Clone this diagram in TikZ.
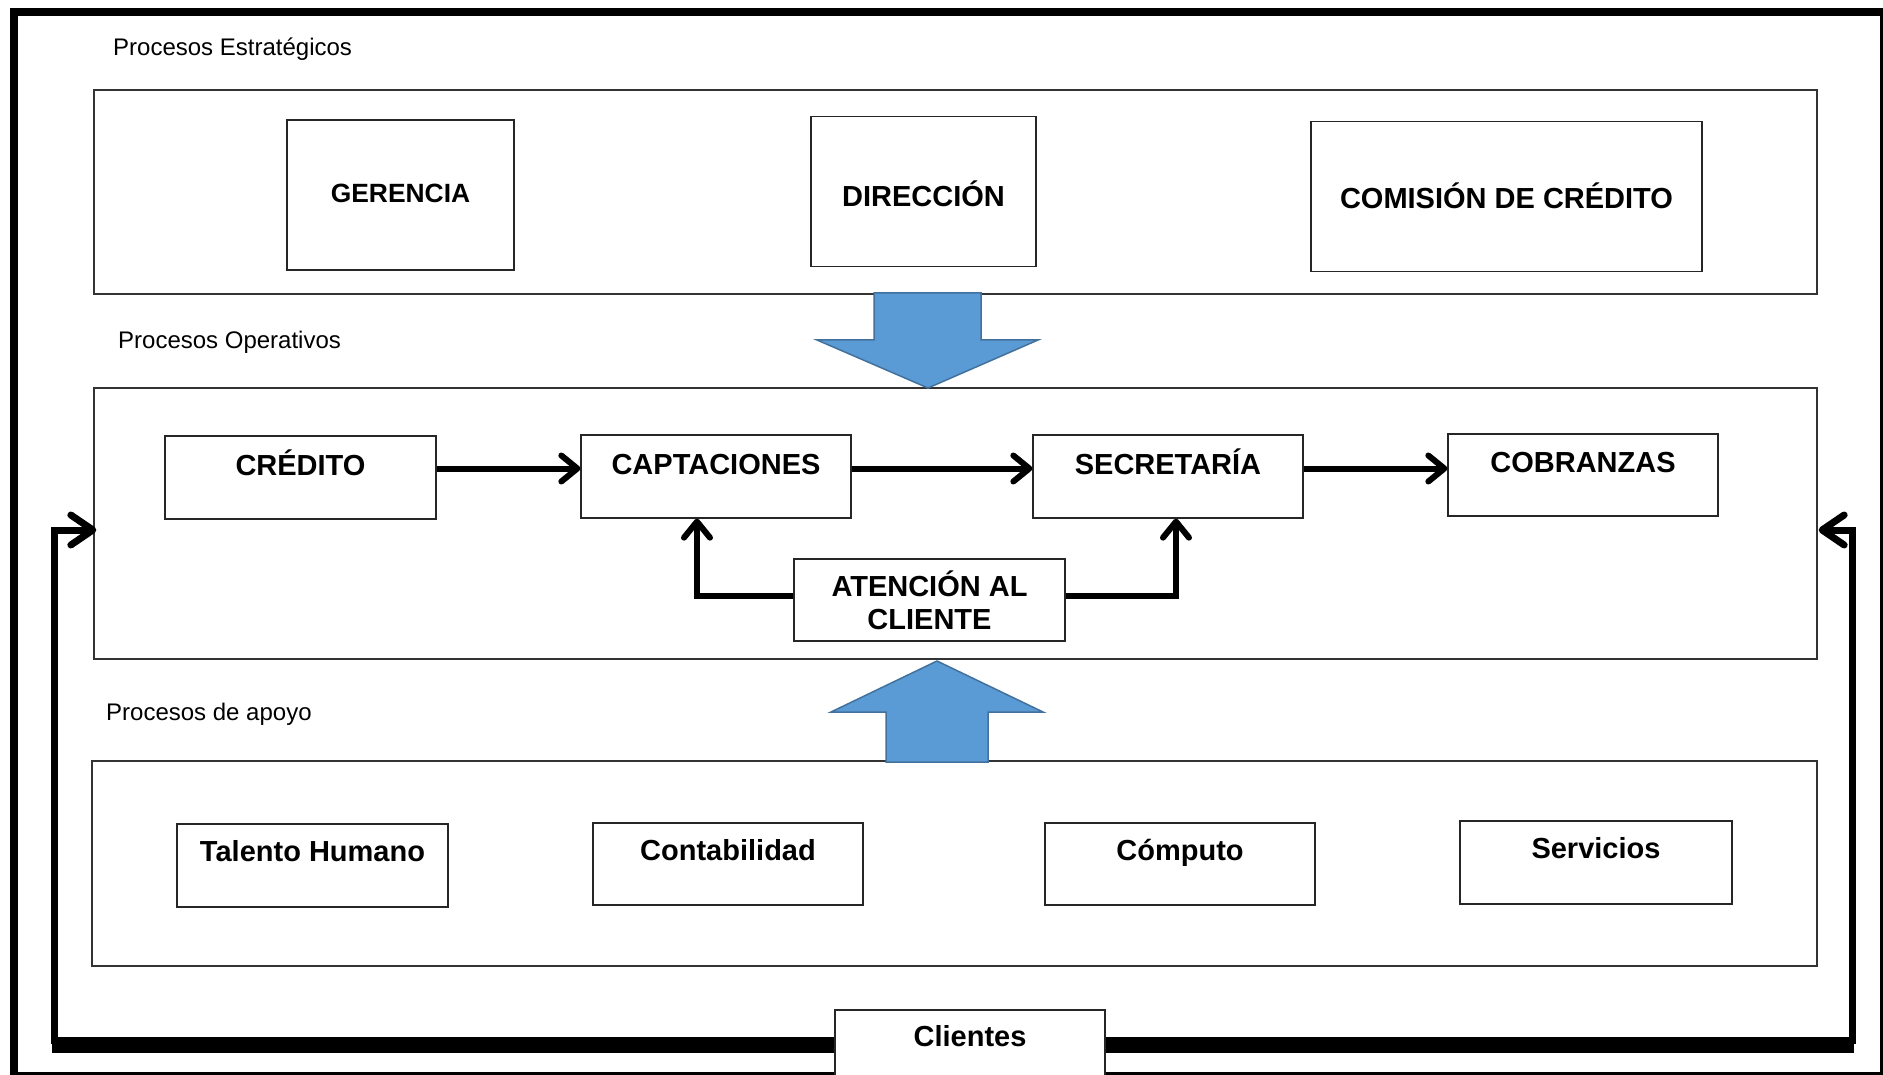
\documentclass[tikz,border=0pt]{standalone}
\usepackage{fontspec}
\setmainfont{Liberation Sans}
\usetikzlibrary{arrows.meta}
\definecolor{arrowblue}{HTML}{5B9BD5}
\definecolor{arrowedge}{HTML}{41719C}
\begin{document}
\begin{tikzpicture}[x=1pt,y=-1pt,
  section/.style={draw=black!80, line width=1.3pt, inner sep=0pt},
  box/.style={draw=black!85, line width=1.3pt, fill=white, inner sep=0pt},
  stratbox/.style={box, minimum height=150pt, text depth=0pt,
                   font=\bfseries\fontsize{29}{33}\selectfont},
  opbox/.style={box, minimum width=270pt, minimum height=83pt, text height=18pt, text depth=23pt,
                font=\bfseries\fontsize{29}{33}\selectfont},
  supbox/.style={box, minimum width=270pt, minimum height=83pt, text height=16pt, text depth=24pt,
                font=\bfseries\fontsize{29}{33}\selectfont},
  seclabel/.style={anchor=base west, inner sep=0pt, font=\fontsize{24}{28}\selectfont},
  conn/.style={line width=6pt, -{Straight Barb[length=16pt,width=26pt,round]}},
  loopline/.style={line width=7pt, -{Straight Barb[length=22pt,width=30pt,round]}},
  bigarrow/.style={fill=arrowblue, draw=arrowedge, line width=1.5pt, line join=miter}
]
\useasboundingbox (0,0) rectangle (1883,1075);
\fill[white] (0,0) rectangle (1883,1075);

% outer frame
\draw[line width=8pt] (14,12) rectangle (1884,1076);

% section containers
\node[section, minimum width=1723pt, minimum height=204pt] (strat) at (955.5,192) {};
\node[section, minimum width=1723pt, minimum height=271pt] (ops) at (955.5,523.5) {};
\node[section, minimum width=1725pt, minimum height=205pt] (sup) at (954.5,863.5) {};

% section labels
\node[seclabel] (lstrat) at (113,56) {Procesos Estratégicos};
\node[seclabel] (lops) at (118,349) {Procesos Operativos};
\node[seclabel] (lsup) at (106,720) {Procesos de apoyo};

% strategic boxes
\node[stratbox, minimum width=227pt, text height=15pt, font=\bfseries\fontsize{26.4}{30}\selectfont] (ger) at (400.5,195) {GERENCIA};
\node[stratbox, minimum width=225pt, text height=30pt] (dir) at (923.5,191.5) {DIRECCIÓN};
\node[stratbox, minimum width=391pt, text height=25pt] (com) at (1506.5,196.5) {COMISIÓN DE CRÉDITO};

% operative boxes
\node[opbox, minimum width=271pt] (cred) at (300.5,477.5) {CRÉDITO};
\node[opbox] (capt) at (716,476.5) {CAPTACIONES};
\node[opbox] (secr) at (1168,476.5) {SECRETARÍA};
\node[opbox, minimum height=82pt] (cobr) at (1583,475) {COBRANZAS};
\node[box, minimum width=271pt, minimum height=82pt, align=center,
      font=\bfseries\fontsize{29}{33}\selectfont] (aten) at (929.5,600) {ATENCIÓN AL\\CLIENTE};

% support boxes
\node[supbox, minimum width=271pt] (tal) at (312.5,865.5) {Talento Humano};
\node[supbox, minimum height=82pt] (cont) at (728,864) {Contabilidad};
\node[supbox, minimum height=82pt] (comp) at (1180,864) {Cómputo};
\node[supbox, minimum width=272pt] (serv) at (1596,862.5) {Servicios};

% big blue arrows
\draw[bigarrow] (874,293) -- (981,293) -- (981,340) -- (1038,340) -- (928,388)
  -- (817,340) -- (874,340) -- cycle;
\draw[bigarrow] (886,762) -- (988,762) -- (988,712) -- (1043,712) -- (937,661)
  -- (831,712) -- (886,712) -- cycle;

% operative flow connectors
\draw[conn] ([yshift=9pt]cred.east) -- ([yshift=9pt]cred.east -| capt.west);
\draw[conn] ([yshift=8pt]capt.east) -- ([yshift=8pt]capt.east -| secr.west);
\draw[conn] ([yshift=8pt]secr.east) -- ([yshift=8pt]secr.east -| cobr.west);
\draw[conn, line join=miter] ([yshift=4pt]aten.west) -| ([xshift=-19pt]capt.south);
\draw[conn, line join=miter] ([yshift=4pt]aten.east) -| ([xshift=8pt]secr.south);

% clientes and feedback loop
\coordinate (lc) at (54,1045);
\coordinate (rc) at (1852,1045);
\node[box, minimum width=270pt, minimum height=70pt, text height=21pt, text depth=18pt,
      font=\bfseries\fontsize{29}{33}\selectfont] (cli) at (970,1045) {Clientes};
\draw[line width=16pt] (cli.west) -- ([xshift=-2pt]lc);
\draw[line width=16pt] (cli.east) -- ([xshift=2pt]rc);
\draw[loopline, line join=miter] ([yshift=1pt]lc) |- ([yshift=-6.5pt, xshift=3pt]ops.west);
\draw[loopline, line join=miter] ([yshift=1pt]rc) |- ([yshift=-6.5pt, xshift=1pt]ops.east);
\end{tikzpicture}
\end{document}
